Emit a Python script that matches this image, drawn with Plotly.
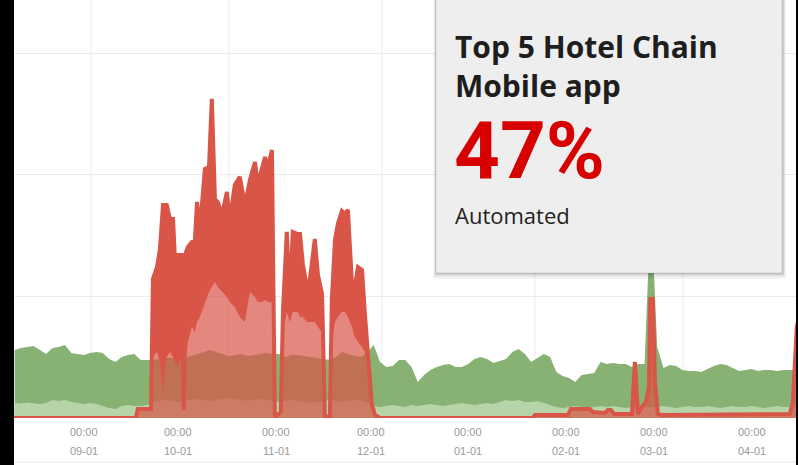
import pandas as pd
import plotly.graph_objects as go

day0 = pd.Timestamp('2016-09-01')

# daily traffic, sampled every 2 days (offset in days from 09-01)
green_days = list(range(-22, 227, 2))
green_total = [
    56.0, 57.6, 58.4, 59.3, 56.0, 52.7, 57.6, 58.4, 60.1, 53.5,
    52.7, 51.9, 53.5, 54.3, 53.5, 48.6, 46.1, 50.2, 51.9, 52.7,
    47.7, 47.7, 47.7, 48.6, 49.4, 49.4, 48.6, 50.2, 51.0, 52.7,
    54.3, 56.0, 54.3, 52.7, 51.0, 51.9, 52.7, 51.0, 51.9, 52.7,
    53.5, 52.7, 52.7, 50.2, 51.9, 51.9, 51.0, 50.2, 49.4, 48.6,
    47.7, 50.2, 54.3, 52.7, 51.0, 50.2, 54.3, 60.1, 46.1, 42.0,
    42.8, 47.7, 47.7, 42.0, 29.6, 35.4, 39.5, 42.0, 43.6, 44.4,
    42.0, 42.0, 44.4, 48.6, 50.2, 48.6, 45.3, 46.9, 48.6, 54.3,
    56.8, 52.7, 46.1, 49.4, 52.7, 50.2, 37.9, 34.6, 32.9, 29.6,
    35.4, 36.2, 37.0, 46.1, 44.4, 45.3, 44.4, 44.4, 42.0, 44.4,
    44.4, 177.8, 58.4, 41.2, 43.6, 42.8, 39.5, 38.7, 38.7, 37.9,
    40.3, 42.8, 44.4, 43.6, 41.2, 38.7, 39.5, 40.3, 38.7, 39.5,
    39.5, 38.7, 39.5, 39.5, 39.5,
]
green_light = [
    12.3, 12.0, 12.8, 12.3, 11.5, 12.3, 14.8, 14.0, 14.8, 13.2,
    12.3, 11.5, 12.3, 11.5, 9.9, 8.2, 7.4, 9.9, 10.7, 9.9,
    9.9, 10.7, 13.2, 14.0, 14.8, 14.0, 13.2, 14.0, 14.8, 15.6,
    14.8, 14.0, 14.8, 15.6, 16.5, 15.6, 14.8, 14.0, 14.8, 15.6,
    14.8, 14.0, 13.2, 14.0, 14.8, 14.0, 13.2, 12.3, 13.2, 14.0,
    14.8, 14.0, 13.2, 14.0, 14.8, 14.0, 12.3, 9.9, 9.1, 9.9,
    10.7, 9.9, 9.1, 10.7, 9.9, 10.7, 11.5, 10.7, 9.9, 10.7,
    11.5, 12.3, 11.5, 10.7, 11.5, 12.3, 11.5, 13.2, 14.8, 14.0,
    14.8, 13.2, 13.2, 14.0, 12.3, 10.7, 9.1, 8.2, 9.1, 9.9,
    9.1, 8.2, 9.1, 9.9, 9.1, 9.9, 9.1, 8.2, 9.1, 9.9,
    9.1, 9.1, 9.1, 9.9, 9.1, 8.2, 9.1, 9.9, 9.1, 9.1,
    9.9, 9.1, 8.2, 9.1, 9.9, 9.1, 9.1, 9.9, 9.1, 8.2,
    9.1, 9.9, 9.1, 9.1, 9.1,
]

# automated traffic: peak envelope and lower edge of the dense band
red_days = [
    -22.5, 16.5, 17.1, 21.3, 21.9, 23.2, 24.1, 25.1, 26.3, 27.3,
    28.3, 28.9, 29.8, 31.1, 31.7, 32.4, 33.0, 34.3, 35.2, 35.9,
    36.8, 38.4, 39.7, 40.6, 41.6, 42.5, 43.8, 45.4, 46.3, 47.9,
    49.5, 51.1, 52.7, 54.3, 55.2, 56.5, 57.5, 58.4, 59.7, 60.6,
    62.5, 63.2, 64.4, 65.4, 66.3, 67.9, 68.6, 69.5, 70.8, 71.7,
    73.3, 74.3, 75.6, 76.5, 78.1, 78.7, 79.7, 80.6, 81.9, 82.9,
    83.8, 85.1, 86.0, 87.0, 88.3, 89.2, 90.2, 91.4, 92.4, 94.0,
    142.5, 143.2, 153.7, 154.6, 160.6, 161.6, 165.4, 166.3, 167.3, 168.3,
    174.0, 174.9, 175.9, 177.1, 178.4, 179.4, 179.8, 180.6, 181.3, 182.2,
    183.2, 217.8, 224.1, 225.1, 225.7, 226.3, 226.7,
]
red_peak = [
    0, 0, 7.4, 7.4, 114.4, 124.3, 138.3, 175.3, 175.3, 163.8,
    163.8, 130.0, 134.2, 134.2, 6.6, 136.6, 140.7, 144.9, 144.9, 177.8,
    154.7, 204.9, 206.6, 262.6, 180.2, 177.8, 167.1, 186.0, 163.0, 191.8,
    198.4, 175.3, 195.9, 210.7, 192.6, 206.6, 214.8, 206.6, 220.6, 0.8,
    4.9, 88.9, 153.1, 99.6, 153.1, 151.4, 151.4, 126.7, 107.8, 113.6,
    147.3, 117.7, 102.1, 0.8, 1.6, 97.1, 146.5, 159.7, 170.4, 167.9,
    171.2, 110.3, 107.8, 124.3, 121.8, 85.6, 52.7, 11.5, 2.5, 0,
    0, 2.5, 2.5, 7.4, 7.4, 4.9, 4.1, 6.6, 6.6, 3.3,
    3.3, 46.1, 3.3, 9.1, 13.2, 25.5, 97.9, 97.9, 29.6, 3.3,
    2.5, 2.5, 3.3, 13.2, 50.2, 74.9, 79.0,
]
red_floor = [
    0, 0, 7.4, 7.4, 50.2, 54.3, 46.1, 21.4, 50.2, 54.3,
    50.2, 46.1, 42.0, 50.2, 6.6, 50.2, 62.6, 74.9, 70.8, 79.0,
    83.1, 95.5, 103.7, 107.8, 111.9, 107.8, 103.7, 99.6, 95.5, 91.4,
    83.1, 79.0, 103.7, 99.6, 95.5, 95.5, 97.1, 95.5, 95.5, 0.8,
    4.9, 70.8, 87.2, 79.0, 87.2, 87.2, 83.1, 83.1, 79.0, 79.0,
    79.0, 74.9, 70.8, 0.8, 1.6, 62.6, 79.0, 83.1, 87.2, 87.2,
    83.1, 74.9, 66.7, 62.6, 58.4, 54.3, 42.0, 9.1, 2.5, 0,
] + red_peak[70:]

month_ticks = ['2016-09-01', '2016-10-01', '2016-11-01', '2016-12-01',
               '2017-01-01', '2017-02-01', '2017-03-01', '2017-04-01']
month_labels = ['09-01', '10-01', '11-01', '12-01', '01-01', '02-01', '03-01', '04-01']
grid_days = [2.2, 46.0, 94.6, 143.2, 190.2]

GREEN = 'rgb(135,178,115)'
LIGHT = 'rgb(182,212,168)'
RED = 'rgb(217,85,72)'


def to_dates(days):
    return day0 + pd.to_timedelta(days, unit='D')


# pixel -> paper helpers (plot area is x 14..798, y 0..418)
def px_x(p):
    return (p - 14) / 784


def px_y(p):
    return (418 - p) / 418


fig = go.Figure()
fig.add_trace(go.Scatter(x=to_dates(green_days), y=green_total, mode='lines', fill='tozeroy',
                         fillcolor=GREEN, line=dict(width=0, color=GREEN), hoverinfo='skip'))
fig.add_trace(go.Scatter(x=to_dates(green_days), y=green_light, mode='lines', fill='tozeroy',
                         fillcolor=LIGHT, line=dict(width=0, color=LIGHT), hoverinfo='skip'))
fig.add_trace(go.Scatter(x=to_dates(red_days), y=red_peak, mode='lines', fill='tozeroy',
                         fillcolor='rgba(217,85,72,0.7)', line=dict(width=0, color=RED), hoverinfo='skip'))
fig.add_trace(go.Scatter(x=to_dates(red_days), y=red_floor, mode='lines',
                         line=dict(width=0, color=RED), hoverinfo='skip'))
fig.add_trace(go.Scatter(x=to_dates(red_days), y=red_peak, mode='lines', fill='tonexty',
                         fillcolor=RED, line=dict(width=4, color=RED), hoverinfo='skip'))

shapes = []
for d in grid_days:
    t = to_dates([d])[0]
    shapes.append(dict(type='line', xref='x', yref='paper', x0=t, x1=t, y0=0, y1=1,
                       line=dict(color='#ececec', width=1), layer='below'))

# card with soft shadow
for grow, drop, alpha in [(3, 6, 0.04), (2, 4, 0.06), (1, 2, 0.10)]:
    shapes.append(dict(type='rect', xref='paper', yref='paper',
                       x0=px_x(436 - grow), x1=px_x(782 + grow + 1), y0=px_y(273 + drop), y1=1.01,
                       fillcolor='rgba(0,0,0,%s)' % alpha, line=dict(width=0)))
shapes.append(dict(type='rect', xref='paper', yref='paper', x0=px_x(436), x1=px_x(782),
                   y0=px_y(273), y1=1.01, fillcolor='#eeeeee',
                   line=dict(color='rgba(0,0,0,0.10)', width=1)))

# frame bits of the screenshot
shapes.append(dict(type='rect', xref='paper', yref='paper', x0=px_x(0), x1=px_x(14),
                   y0=px_y(465), y1=1, fillcolor='black', line=dict(width=0)))
shapes.append(dict(type='rect', xref='paper', yref='paper', x0=px_x(796), x1=px_x(799),
                   y0=px_y(465), y1=1, fillcolor='black', line=dict(width=0)))
shapes.append(dict(type='line', xref='paper', yref='paper', x0=0, x1=px_x(796),
                   y0=px_y(462), y1=px_y(462), line=dict(color='#e6e6e6', width=1)))

annotations = []
tick_font = dict(family='Liberation Sans, Arial, sans-serif', size=11, color='#9a9a9a')
for t, lab in zip(month_ticks, month_labels):
    annotations.append(dict(x=t, y=0, xref='x', yref='paper', yanchor='middle', text='00:00',
                            showarrow=False, yshift=-14, font=tick_font))
    annotations.append(dict(x=t, y=0, xref='x', yref='paper', yanchor='middle', text=lab,
                            showarrow=False, yshift=-33, font=tick_font))

card_x = px_x(456)
annotations.append(dict(x=card_x, y=1, xref='paper', yref='paper', xanchor='left', yanchor='top',
                        xshift=-3, yshift=-24, align='left', showarrow=False,
                        text='<b>Top 5 Hotel Chain<br>Mobile app</b>',
                        font=dict(family='Open Sans', size=30, color='#1e1e1e')))
annotations.append(dict(x=card_x, y=1, xref='paper', yref='paper', xanchor='left', yanchor='bottom',
                        xshift=-4, yshift=-200, showarrow=False, text='<b>47%</b>',
                        font=dict(family='Roboto', size=80, color='#d70000')))
annotations.append(dict(x=card_x, y=1, xref='paper', yref='paper', xanchor='left', yanchor='top',
                        xshift=-3, yshift=-198, showarrow=False, text='Automated',
                        font=dict(family='Open Sans', size=22, color='#222222')))

fig.update_layout(
    width=798, height=465,
    margin=dict(l=14, r=0, t=0, b=47),
    paper_bgcolor='white', plot_bgcolor='white',
    showlegend=False,
    shapes=shapes, annotations=annotations,
    xaxis=dict(type='date', range=[to_dates([-22.2])[0], to_dates([226.7])[0]],
               showgrid=False, zeroline=False, showticklabels=False, showline=False),
    yaxis=dict(range=[0, 344], dtick=100, showgrid=True, gridcolor='#ececec', gridwidth=1,
               zeroline=False, showticklabels=False, showline=False),
)

fig.write_html('out.html', config={'displayModeBar': False},
               post_script="document.body.style.margin='0';")
